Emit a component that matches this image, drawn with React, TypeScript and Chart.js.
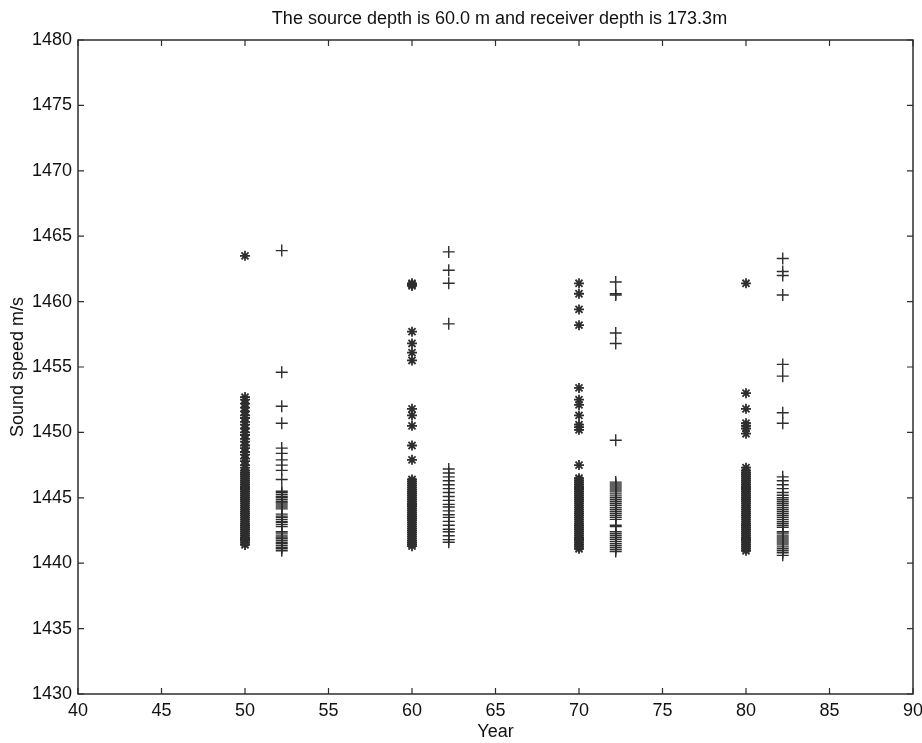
import React, { useEffect, useRef } from "react";
import { Chart, registerables } from "chart.js";

Chart.register(...registerables);

const TITLE = "The source depth is 60.0 m and receiver depth is 173.3m";
const X_LABEL = "Year";
const Y_LABEL = "Sound speed m/s";

// Source-side (star) columns
const STAR_X = [50, 60, 70, 80];
// Receiver-side (plus) columns
const PLUS_X = [52.2, 62.2, 72.2, 82.2];

const stars50 = [
  1463.5,
  1452.7, 1452.5, 1452.2, 1451.9, 1451.6, 1451.3, 1451.1, 1450.8, 1450.6, 1450.3,
  1450.0, 1449.8, 1449.5, 1449.3, 1449.0, 1448.8, 1448.5, 1448.3, 1448.0, 1447.8,
  1447.5, 1447.3, 1447.1, 1446.95, 1446.8, 1446.65, 1446.5, 1446.35, 1446.2, 1446.05,
  1445.9, 1445.75, 1445.6, 1445.45, 1445.3, 1445.15, 1445.0, 1444.85, 1444.7, 1444.55,
  1444.4, 1444.25, 1444.1, 1443.95, 1443.8, 1443.65, 1443.5, 1443.35, 1443.2, 1443.05,
  1442.9, 1442.75, 1442.6, 1442.45, 1442.3, 1442.15, 1442.0, 1441.85, 1441.7, 1441.55,
  1441.4,
];
const plus52 = [
  1463.9, 1454.6, 1452.0, 1450.7, 1448.8, 1448.4, 1447.9, 1447.5, 1447.1, 1446.4,
  1445.5, 1445.4, 1445.25, 1445.1, 1445.0, 1444.85, 1444.7, 1444.6, 1444.45, 1444.3,
  1444.15, 1443.75, 1443.6, 1443.5, 1443.35, 1443.2, 1443.1, 1442.95, 1442.8,
  1442.4, 1442.3, 1442.15, 1442.0, 1441.9, 1441.75, 1441.6, 1441.5, 1441.35, 1441.2,
  1441.1, 1440.95,
];
const stars60 = [
  1461.4, 1461.3, 1461.2, 1457.7, 1456.8, 1456.1, 1455.5, 1451.8, 1451.3, 1450.5,
  1449.0, 1447.9, 1446.4, 1446.25, 1446.1, 1445.95, 1445.8, 1445.65, 1445.5, 1445.35,
  1445.2, 1445.05, 1444.9, 1444.75, 1444.6, 1444.45, 1444.3, 1444.15, 1444.0, 1443.85,
  1443.7, 1443.55, 1443.4, 1443.25, 1443.1, 1442.95, 1442.8, 1442.65, 1442.5, 1442.35,
  1442.2, 1442.05, 1441.9, 1441.75, 1441.6, 1441.45, 1441.3,
];
const plus62 = [
  1463.8, 1462.4, 1461.4, 1458.3, 1447.2, 1446.9, 1446.6, 1446.3, 1446.0, 1445.7,
  1445.4, 1445.1, 1444.8, 1444.5, 1444.3, 1444.0, 1443.7, 1443.5, 1443.2, 1442.9,
  1442.6, 1442.4, 1442.1, 1441.8, 1441.6,
];
const stars70 = [
  1461.4, 1460.6, 1459.4, 1458.2, 1453.4, 1452.5, 1452.1, 1451.3, 1450.6, 1450.4,
  1450.2, 1447.5, 1446.5, 1446.35, 1446.2, 1446.05, 1445.9, 1445.75, 1445.6, 1445.45,
  1445.3, 1445.15, 1445.0, 1444.85, 1444.7, 1444.55, 1444.4, 1444.25, 1444.1, 1443.95,
  1443.8, 1443.65, 1443.5, 1443.35, 1443.2, 1443.05, 1442.9, 1442.75, 1442.6, 1442.45,
  1442.3, 1442.15, 1442.0, 1441.85, 1441.7, 1441.55, 1441.4, 1441.25, 1441.1,
];
const plus72 = [
  1461.5, 1460.6, 1460.5, 1457.6, 1456.8, 1449.4, 1446.2, 1446.05, 1445.9, 1445.75,
  1445.6, 1445.45, 1445.3, 1445.15, 1445.0, 1444.85, 1444.7, 1444.55, 1444.4, 1444.25,
  1444.1, 1443.95, 1443.8, 1443.65, 1443.5, 1443.35, 1442.9, 1442.8,
  1442.4, 1442.25, 1442.1, 1441.95, 1441.8, 1441.65, 1441.5, 1441.35, 1441.2, 1441.05,
  1440.9,
];
const stars80 = [
  1461.4, 1453.0, 1451.8, 1450.7, 1450.5, 1450.3, 1449.9, 1447.3, 1447.1, 1446.95,
  1446.8, 1446.65, 1446.5, 1446.35, 1446.2, 1446.05, 1445.9, 1445.75, 1445.6, 1445.45,
  1445.3, 1445.15, 1445.0, 1444.85, 1444.7, 1444.55, 1444.4, 1444.25, 1444.1, 1443.95,
  1443.8, 1443.65, 1443.5, 1443.35, 1443.2, 1443.05, 1442.9, 1442.75, 1442.6, 1442.45,
  1442.3, 1442.15, 1442.0, 1441.85, 1441.7, 1441.55, 1441.4, 1441.25, 1441.1, 1440.95,
];
const plus82 = [
  1463.3, 1462.3, 1462.0, 1460.5, 1455.2, 1454.3, 1451.5, 1450.7, 1446.6, 1446.3,
  1446.0, 1445.7, 1445.4, 1445.2, 1445.0, 1444.85, 1444.7, 1444.55, 1444.4, 1444.25,
  1444.1, 1443.95, 1443.8, 1443.65, 1443.5, 1443.35, 1443.2, 1443.05, 1442.9, 1442.75,
  1442.4, 1442.3, 1442.15, 1442.0, 1441.85, 1441.7, 1441.55, 1441.4, 1441.25, 1441.1,
  1440.95, 1440.8, 1440.6,
];

const STAR_SERIES = [stars50, stars60, stars70, stars80];
const PLUS_SERIES = [plus52, plus62, plus72, plus82];

const X_MIN = 40, X_MAX = 90, X_STEP = 5;
const Y_MIN = 1430, Y_MAX = 1480, Y_STEP = 5;

const INK = "#2e2e2e";
const TEXT = "#111";
const FONT = "'Liberation Sans', Arial, sans-serif";

const boxTicks = {
  id: "boxTicks",
  afterDraw(chart: any) {
    const { ctx, chartArea: a, scales } = chart;
    const len = 6;
    ctx.save();
    ctx.strokeStyle = INK;
    ctx.lineWidth = 1.5;
    ctx.strokeRect(a.left, a.top, a.right - a.left, a.bottom - a.top);
    ctx.lineWidth = 1.2;
    ctx.beginPath();
    scales.x.ticks.forEach((t: any) => {
      const px = scales.x.getPixelForValue(t.value);
      ctx.moveTo(px, a.bottom);
      ctx.lineTo(px, a.bottom - len);
      ctx.moveTo(px, a.top);
      ctx.lineTo(px, a.top + len);
    });
    scales.y.ticks.forEach((t: any) => {
      const py = scales.y.getPixelForValue(t.value);
      ctx.moveTo(a.left, py);
      ctx.lineTo(a.left + len, py);
      ctx.moveTo(a.right, py);
      ctx.lineTo(a.right - len, py);
    });
    ctx.stroke();
    // title centred over the plot box
    ctx.fillStyle = TEXT;
    ctx.font = "18px " + FONT;
    ctx.textAlign = "center";
    ctx.textBaseline = "middle";
    ctx.fillText(TITLE, (a.left + a.right) / 2 + 4, 19);
    ctx.restore();
  },
};

export default function App() {
  const ref = useRef<HTMLCanvasElement | null>(null);

  useEffect(() => {
    if (!ref.current) return;
    const datasets: any[] = [];
    STAR_SERIES.forEach((vals, i) => {
      datasets.push({
        label: "source " + STAR_X[i],
        data: vals.map((v) => ({ x: STAR_X[i], y: v })),
        pointStyle: "star",
        pointRadius: 5,
        borderColor: INK,
        backgroundColor: INK,
        pointBorderWidth: 1.8,
        showLine: false,
      });
    });
    PLUS_SERIES.forEach((vals, i) => {
      datasets.push({
        label: "receiver " + PLUS_X[i],
        data: vals.map((v) => ({ x: PLUS_X[i], y: v })),
        pointStyle: "cross",
        pointRadius: 6,
        borderColor: INK,
        backgroundColor: INK,
        pointBorderWidth: 1.4,
        showLine: false,
      });
    });

    const chart = new Chart(ref.current, {
      type: "scatter",
      data: { datasets },
      options: {
        animation: false,
        responsive: true,
        maintainAspectRatio: false,
        layout: { padding: { top: 40, right: 9, bottom: 0, left: 0 } },
        plugins: {
          legend: { display: false },
          tooltip: { enabled: false },
          title: { display: false },
        },
        scales: {
          x: {
            type: "linear",
            min: X_MIN,
            max: X_MAX,
            grid: { display: false, drawTicks: false },
            border: { display: false },
            ticks: {
              stepSize: X_STEP,
              color: TEXT,
              padding: 6,
              maxRotation: 0,
              font: { family: FONT, size: 18 },
              callback: (v: any) => String(v),
            },
            title: {
              display: true,
              text: X_LABEL,
              color: TEXT,
              font: { family: FONT, size: 18 },
              padding: { top: 0, bottom: 0 },
            },
            afterFit(scale: any) {
              scale.height = 49;
              scale.paddingRight = 0;
              scale.paddingLeft = 0;
            },
          },
          y: {
            type: "linear",
            min: Y_MIN,
            max: Y_MAX,
            grid: { display: false, drawTicks: false },
            border: { display: false },
            ticks: {
              stepSize: Y_STEP,
              color: TEXT,
              padding: 6,
              font: { family: FONT, size: 18 },
              callback: (v: any) => String(v),
            },
            title: {
              display: true,
              text: Y_LABEL,
              color: TEXT,
              font: { family: FONT, size: 18 },
              padding: { top: 7, bottom: 0 },
            },
            afterFit(scale: any) {
              scale.width = 78;
              scale.paddingTop = 0;
              scale.paddingBottom = 0;
            },
          },
        },
      },
      plugins: [boxTicks],
    });
    return () => chart.destroy();
  }, []);

  return (
    <div
      style={{
        position: "fixed",
        left: 0,
        top: 0,
        width: 922,
        height: 743,
        background: "#fff",
      }}
    >
      <canvas ref={ref} />
    </div>
  );
}
